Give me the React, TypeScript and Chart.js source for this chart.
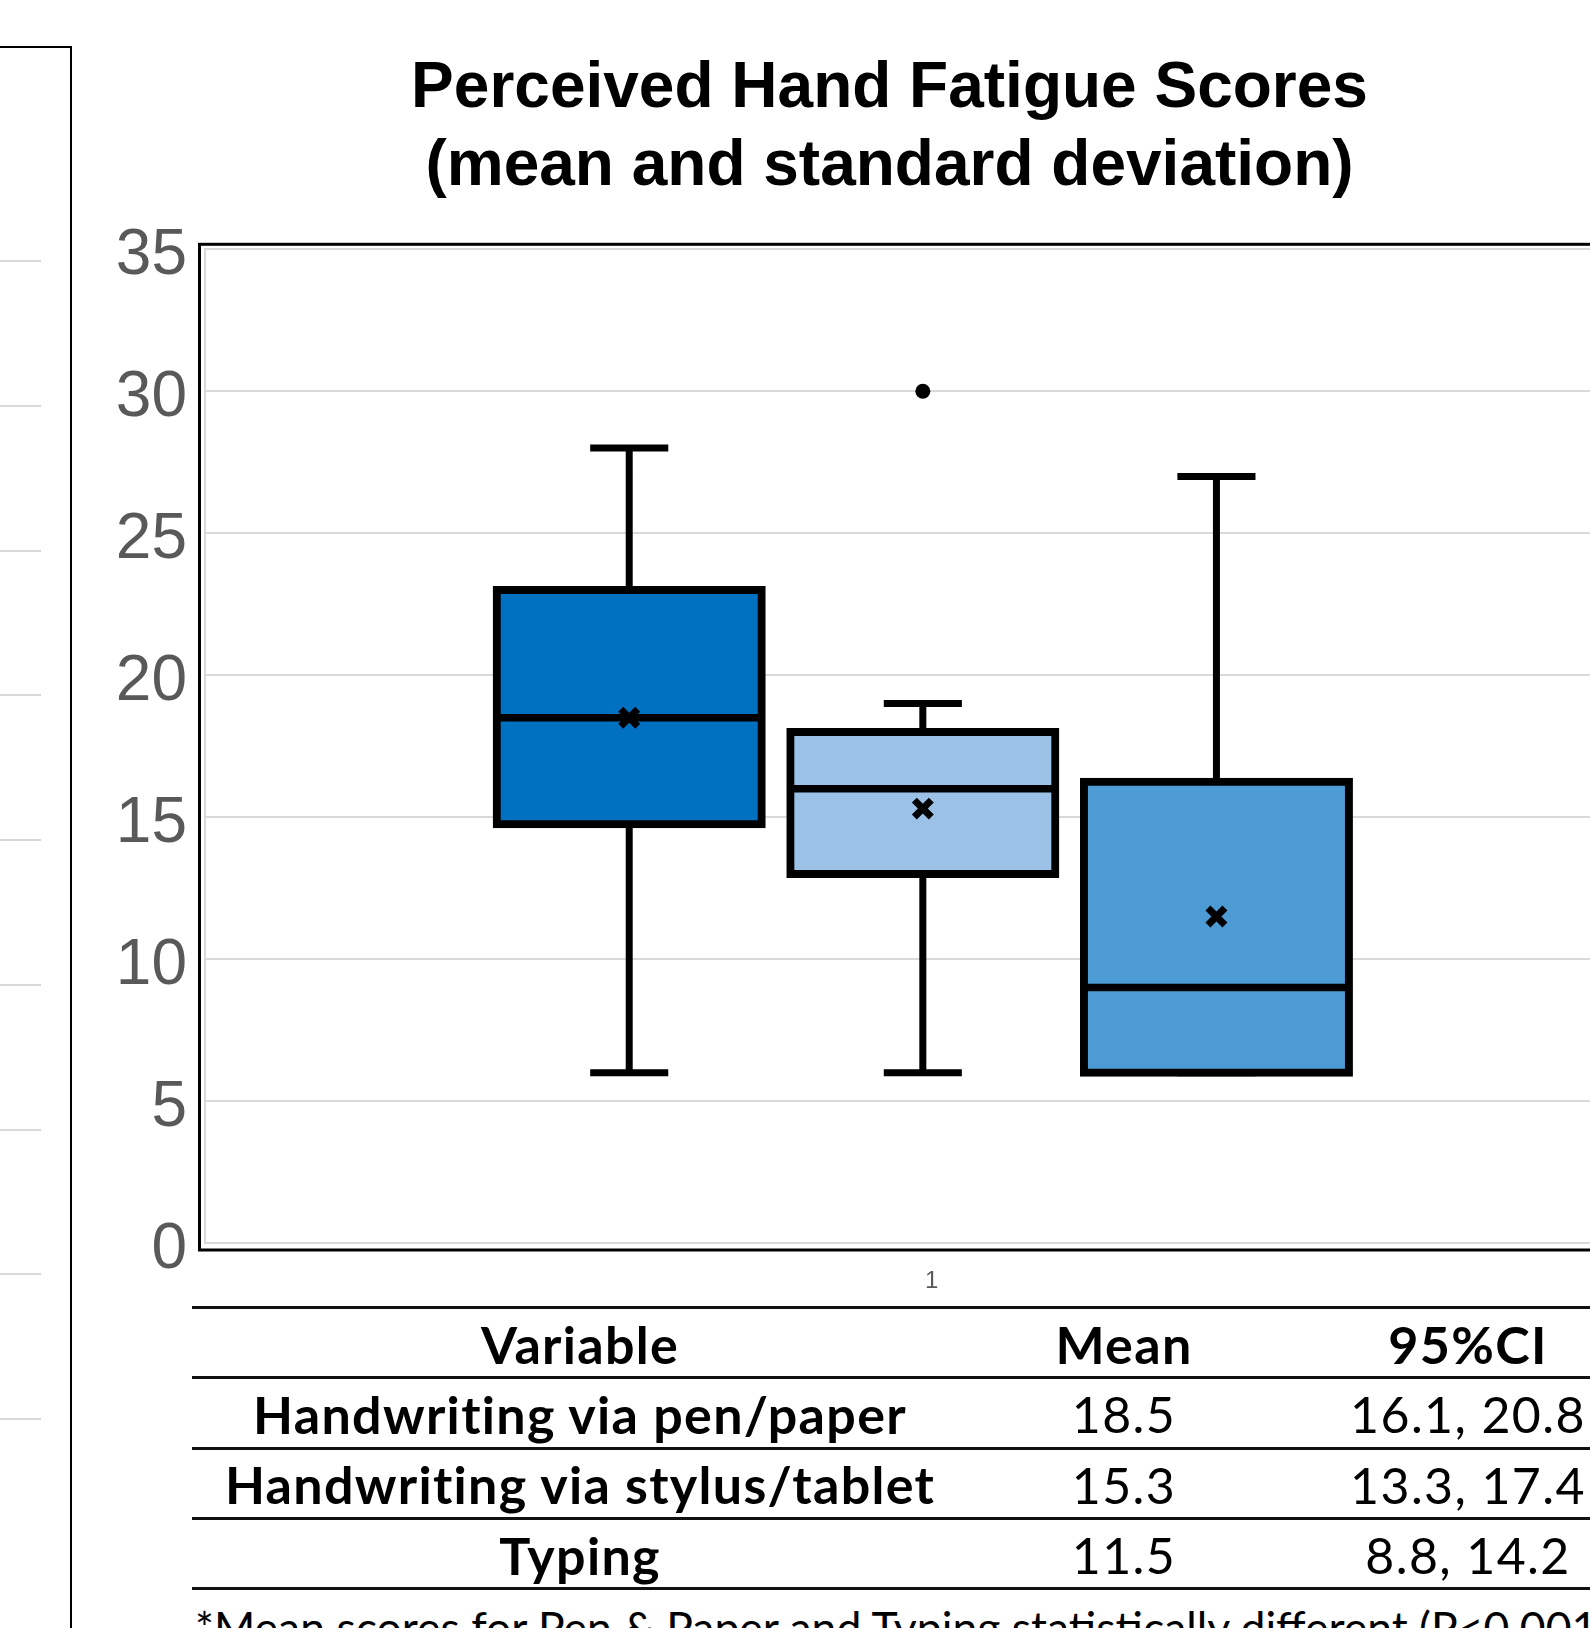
import React, { useEffect, useRef } from "react";
import { Chart, registerables } from "chart.js";

Chart.register(...registerables);

// ---------------- data ----------------
const titleLines = ["Perceived Hand Fatigue Scores", "(mean and standard deviation)"];
const categoryLabel = "1";
const variables = ["Handwriting via pen/paper", "Handwriting via stylus/tablet", "Typing"];
const boxColors = ["#0070C0", "#9BC2E6", "#4C9BD5"];
const whiskerMin = [6, 6, 6];
const q1 = [14.75, 13, 6];
const medians = [18.5, 16, 9];
const q3 = [23, 18, 16.25];
const whiskerMax = [28, 19, 27];
const means = [18.5, 15.3, 11.5];
const outliers: number[][] = [[], [30], []];
const ci95Low = [16.1, 13.3, 8.8];
const ci95High = [20.8, 17.4, 14.2];
const yMin = 0;
const yMax = 35;
const yStep = 5;
const tableHeaders = ["Variable", "Mean", "95%CI"];
const footnote = "*Mean scores for Pen & Paper and Typing statistically different (P<0.001)";
// neighbouring (cropped) chart on the left: only its gridlines are visible
const sideGridMin = 0;
const sideGridMax = 8;

// ---------------- layout / style ----------------
const PAGE_W = 1590;
const PAGE_H = 1628;
const CANVAS_W = 1779;
const CANVAS_H = 1300;
const PLOT_LEFT = 205;
const PLOT_BOTTOM = 1243;
const X_MIN = -0.4448;
const X_MAX = 4.916;
const CATEGORY_TICK_AT = 2.03;
const BAR_PCT = 0.9026;
const CAP_HALF = 0.133;
const GRID = "#d9d9d9";
const TICK_COLOR = "#595959";
const SANS = "'Liberation Sans', Arial, sans-serif";
const TABLE_FONT = "Lato, 'Noto Sans', sans-serif";
const RULE_Y = [1307.5, 1377.5, 1448, 1518, 1588.5];
const COL_CENTERS = [580, 1124, 1468];

const plotFrame = {
  id: "plotFrame",
  afterDraw(chart: any) {
    const { ctx, chartArea: a } = chart;
    ctx.save();
    ctx.strokeStyle = "#000";
    ctx.lineWidth = 3;
    ctx.strokeRect(a.left - 5.5, a.top - 5, a.right - a.left + 60, a.bottom - a.top + 12);
    ctx.restore();
  },
};

function MainChart() {
  const ref = useRef<HTMLCanvasElement | null>(null);
  useEffect(() => {
    if (!ref.current) return;
    const pos = variables.map((_, i) => i + 1);
    const boxData = pos.map((x, i) => ({ x, y: [q1[i], q3[i]] }));
    const whiskerData = pos.flatMap((x, i) => [
      { x, y: q3[i] },
      { x, y: whiskerMax[i] },
      { x, y: null },
      { x, y: q1[i] },
      { x, y: whiskerMin[i] },
      { x, y: null },
    ]);
    const capData = pos.flatMap((x, i) => [
      { x: x - CAP_HALF, y: whiskerMax[i] },
      { x: x + CAP_HALF, y: whiskerMax[i] },
      { x, y: null },
      { x: x - CAP_HALF, y: whiskerMin[i] },
      { x: x + CAP_HALF, y: whiskerMin[i] },
      { x, y: null },
    ]);
    const medianData = pos.flatMap((x, i) => [
      { x: x - BAR_PCT / 2, y: medians[i] },
      { x: x + BAR_PCT / 2, y: medians[i] },
      { x, y: null },
    ]);
    const meanData = pos.map((x, i) => ({ x, y: means[i] }));
    const outlierData = pos.flatMap((x, i) => outliers[i].map((v) => ({ x, y: v })));

    const lineBase = {
      type: "line" as const,
      borderColor: "#000",
      pointRadius: 0,
      spanGaps: false,
      tension: 0,
      fill: false,
      borderCapStyle: "butt" as const,
    };

    const chart = new Chart(ref.current, {
      type: "bar",
      data: {
        datasets: [
          { ...lineBase, label: "whiskers", data: whiskerData as any, borderWidth: 7, order: 4 },
          { ...lineBase, label: "caps", data: capData as any, borderWidth: 7, order: 4 },
          {
            type: "bar",
            label: "boxes",
            data: boxData as any,
            backgroundColor: boxColors,
            borderColor: "#000",
            borderWidth: 8,
            borderSkipped: false,
            inflateAmount: 4,
            barPercentage: BAR_PCT,
            categoryPercentage: 1,
            order: 3,
          } as any,
          { ...lineBase, label: "medians", data: medianData as any, borderWidth: 7.5, order: 2 },
          {
            type: "line",
            label: "means",
            data: meanData as any,
            showLine: false,
            pointStyle: "crossRot",
            pointRadius: 12,
            pointBorderWidth: 7,
            pointBorderColor: "#000",
            pointBackgroundColor: "#000",
            order: 1,
          } as any,
          {
            type: "line",
            label: "outliers",
            data: outlierData as any,
            showLine: false,
            pointStyle: "circle",
            pointRadius: 7.5,
            pointBorderWidth: 0,
            pointBackgroundColor: "#000",
            order: 1,
          } as any,
        ],
      },
      options: {
        responsive: false,
        animation: false,
        devicePixelRatio: 1,
        events: [],
        layout: { padding: 0, autoPadding: false },
        plugins: {
          legend: { display: false },
          tooltip: { enabled: false },
          title: {
            display: true,
            text: titleLines,
            color: "#000",
            font: { family: SANS, size: 64, weight: "bold", lineHeight: 78 / 64 },
            padding: { top: 50.5, bottom: 42.8 },
          },
        },
        scales: {
          x: {
            type: "linear",
            min: X_MIN,
            max: X_MAX,
            offset: false,
            grid: { display: false, drawTicks: false, offset: false },
            border: { display: true, color: GRID, width: 2 },
            ticks: {
              autoSkip: false,
              maxRotation: 0,
              color: TICK_COLOR,
              font: { family: SANS, size: 24 },
              padding: 24,
              callback: () => categoryLabel,
            },
            afterBuildTicks: (s: any) => {
              s.ticks = [{ value: CATEGORY_TICK_AT }];
            },
            afterFit: (s: any) => {
              s.height = CANVAS_H - PLOT_BOTTOM;
            },
          },
          y: {
            type: "linear",
            min: yMin,
            max: yMax,
            ticks: {
              stepSize: yStep,
              color: TICK_COLOR,
              font: { family: SANS, size: 64 },
              padding: 18,
              labelOffset: 7.5,
            },
            grid: { color: GRID, lineWidth: 2, drawTicks: false },
            border: { display: true, color: GRID, width: 2 },
            afterFit: (s: any) => {
              s.width = PLOT_LEFT;
            },
          },
        } as any,
      },
      plugins: [plotFrame],
    });
    return () => chart.destroy();
  }, []);
  return (
    <canvas
      ref={ref}
      width={CANVAS_W}
      height={CANVAS_H}
      style={{ position: "absolute", left: 0, top: 0, width: CANVAS_W, height: CANVAS_H }}
    />
  );
}

function SideChart() {
  const ref = useRef<HTMLCanvasElement | null>(null);
  useEffect(() => {
    if (!ref.current) return;
    const chart = new Chart(ref.current, {
      type: "line",
      data: { labels: [], datasets: [] },
      options: {
        responsive: false,
        animation: false,
        devicePixelRatio: 1,
        events: [],
        layout: { padding: { top: 10, bottom: 10, left: 0, right: 0 }, autoPadding: false },
        plugins: { legend: { display: false }, tooltip: { enabled: false } },
        scales: {
          x: { display: false },
          y: {
            min: sideGridMin,
            max: sideGridMax,
            ticks: { display: false, stepSize: 1 },
            grid: { color: GRID, lineWidth: 2, drawTicks: false },
            border: { display: false },
          },
        },
      },
    });
    return () => chart.destroy();
  }, []);
  return (
    <canvas
      ref={ref}
      width={41}
      height={1178}
      style={{ position: "absolute", left: 0, top: 251, width: 41, height: 1178 }}
    />
  );
}

export default function App() {
  const rows: { text: string; bold: boolean }[][] = [
    tableHeaders.map((t) => ({ text: t, bold: true })),
    ...variables.map((v, i) => [
      { text: v, bold: true },
      { text: means[i].toFixed(1), bold: false },
      { text: `${ci95Low[i].toFixed(1)}, ${ci95High[i].toFixed(1)}`, bold: false },
    ]),
  ];
  return (
    <div
      style={{
        position: "absolute",
        left: 0,
        top: 0,
        width: PAGE_W,
        height: PAGE_H,
        overflow: "hidden",
        background: "#fff",
      }}
    >
      <div
        style={{
          position: "absolute",
          left: -10,
          top: 46,
          width: 82,
          height: 1700,
          borderTop: "2px solid #000",
          borderRight: "2px solid #000",
          boxSizing: "border-box",
        }}
      />
      <SideChart />
      <MainChart />
      {RULE_Y.map((y, i) => (
        <div
          key={`rule-${i}`}
          style={{ position: "absolute", left: 192, width: 1500, top: y - 1.5, height: 3, background: "#111" }}
        />
      ))}
      {rows.map((cells, r) =>
        cells.map((cell, c) => (
          <div
            key={`cell-${r}-${c}`}
            style={{
              position: "absolute",
              left: COL_CENTERS[c] - 450,
              width: 900,
              top: RULE_Y[r],
              height: RULE_Y[r + 1] - RULE_Y[r],
              paddingTop: 3,
              boxSizing: "border-box",
              display: "flex",
              alignItems: "center",
              justifyContent: "center",
              fontFamily: TABLE_FONT,
              fontWeight: cell.bold ? 700 : 400,
              fontSize: cell.bold ? 52 : 50,
              letterSpacing: cell.bold ? 1.3 : 1.4,
              lineHeight: 1.2,
              whiteSpace: "nowrap",
              color: "#000",
            }}
          >
            {cell.text}
          </div>
        ))
      )}
      <div
        style={{
          position: "absolute",
          left: 195,
          top: 1599.7,
          fontFamily: TABLE_FONT,
          fontSize: 44.5,
          lineHeight: 1.2,
          whiteSpace: "nowrap",
          color: "#000",
        }}
      >
        {footnote}
      </div>
    </div>
  );
}
